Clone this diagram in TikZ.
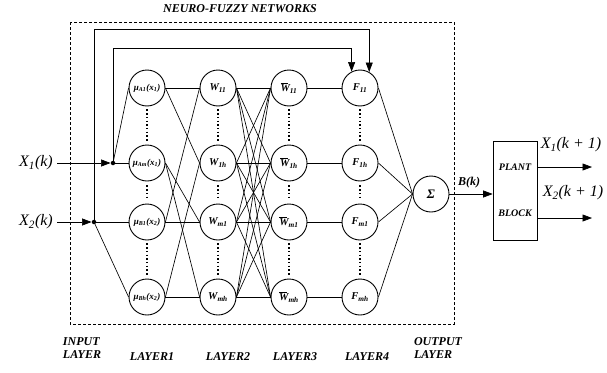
\documentclass[tikz,border=0pt]{standalone}
\usepackage{fontspec}
\setmainfont{Liberation Serif}
\usetikzlibrary{arrows.meta}
% bold italic labels with text-mode subscripts
\newcommand{\sub}[2]{#1\textsubscript{#2}}
\newcommand{\barW}{\rlap{\raisebox{0.82em}{\rule{0.75em}{0.7pt}}}W}
\begin{document}
\begin{tikzpicture}[x=1pt,y=-1pt,
  neuron/.style={draw,circle,minimum size=36pt,inner sep=0pt,line width=0.9pt,
    font=\fontsize{10.5}{10.5}\selectfont\bfseries\itshape},
  mfneuron/.style={neuron,font=\fontsize{9}{9}\selectfont\bfseries\itshape},
  wire/.style={line width=0.65pt},
  dotcol/.style={line width=1.1pt,dash pattern=on 1.5pt off 2.2pt},
  frame/.style={line width=0.9pt,dash pattern=on 3pt off 2pt},
  tag/.style={font=\fontsize{12}{12.5}\selectfont\bfseries\itshape,align=left,inner sep=0pt},
  var/.style={font=\fontsize{16}{16}\selectfont\itshape,inner sep=0pt},
  arr/.style={wire,-{Triangle[length=9.5pt,width=7pt]}},
  junction/.style={circle,fill,inner sep=0pt,minimum size=4.5pt},
  blockbox/.style={draw,line width=0.7pt,minimum width=44pt,minimum height=99pt,inner sep=0pt},
]
\useasboundingbox (0,0) rectangle (607,372);

% network frame and title
\draw[frame] (70,22) rectangle (454,324);
\node[tag] (title) at (240,9) {NEURO-FUZZY NETWORKS};

% layer 1: membership functions
\node[mfneuron] (a1) at (147,88)  {\sub{μ}{A1}(x\textsubscript{1})};
\node[mfneuron] (a2) at (147,163) {\sub{μ}{Am}(x\textsubscript{1})};
\node[mfneuron] (a3) at (147,222) {\sub{μ}{B1}(x\textsubscript{2})};
\node[mfneuron] (a4) at (147,297) {\sub{μ}{Bh}(x\textsubscript{2})};
% layer 2: rule firing strengths
\node[neuron] (b1) at (218,88)  {\sub{W}{11}};
\node[neuron] (b2) at (218,163) {\sub{W}{1h}};
\node[neuron] (b3) at (218,222) {\sub{W}{m1}};
\node[neuron] (b4) at (218,297) {\sub{W}{mh}};
% layer 3: normalised strengths
\node[neuron] (c1) at (289,88)  {\sub{\barW}{11}};
\node[neuron] (c2) at (289,163) {\sub{\barW}{1h}};
\node[neuron] (c3) at (289,222) {\sub{\barW}{m1}};
\node[neuron] (c4) at (289,297) {\sub{\barW}{mh}};
% layer 4: rule consequents
\node[neuron] (f1) at (360,88)  {\sub{F}{11}};
\node[neuron] (f2) at (360,163) {\sub{F}{1h}};
\node[neuron] (f3) at (360,222) {\sub{F}{m1}};
\node[neuron] (f4) at (360,297) {\sub{F}{mh}};
% output layer
\node[neuron,font=\fontsize{13}{13}\selectfont\bfseries\itshape] (s) at (431,194) {Σ};

% dotted continuation marks in each column
\foreach \col in {a,b,c,f}{
  \draw[dotcol] ([yshift=-3pt]\col1.south) -- ([yshift=3pt]\col2.north);
  \draw[dotcol] ([yshift=-4pt]\col2.south) -- ([yshift=4pt]\col3.north);
  \draw[dotcol] ([yshift=-3pt]\col3.south) -- ([yshift=3pt]\col4.north);
}

% inputs
\node[var] (x1) at (36,163) {X\textsubscript{1}(k)};
\node[var] (x2) at (36,222) {X\textsubscript{2}(k)};
\node[junction] (j1) at (113,163) {};
\node[junction] (j2) at (94,222) {};
\draw[arr] ([xshift=4pt]x1.east) -- (j1);
\draw[arr] ([xshift=4pt]x2.east) -- (j2);
\draw[wire] (j1) -- (a1.west);
\draw[wire] (j1) -- (a2.west);
\draw[wire] (j2) -- (a3.west);
\draw[wire] (j2) -- (a4.west);

% inputs fed forward to the consequent layer
\coordinate (top1) at (0,48);
\coordinate (top2) at (0,29);
\draw[arr] (j1) |- (f1.117 |- top1) -- (f1.117);
\draw[arr] (j2) |- (f1.60 |- top2) -- (f1.60);

% layer 1 -> layer 2
\foreach \i/\j in {1/1,1/2,2/3,2/4,3/1,3/3,4/2,4/4}
  \draw[wire] (a\i.east) -- (b\j.west);
% layer 2 -> layer 3, fully connected
\foreach \i in {1,...,4}
  \foreach \j in {1,...,4}
    \draw[wire] (b\i.east) -- (c\j.west);
% layer 3 -> layer 4
\foreach \i in {1,...,4}
  \draw[wire] (c\i.east) -- (f\i.west);
% layer 4 -> sum
\foreach \i in {1,...,4}
  \draw[wire] (f\i.east) -- (s.west);

% plant
\node[blockbox] (plant) at (515,190.5) {};
\node[tag,font=\fontsize{10}{10}\selectfont\bfseries\itshape] (plantt) at (515,167) {PLANT};
\node[tag,font=\fontsize{10}{10}\selectfont\bfseries\itshape] (blockt) at (515,213) {BLOCK};
\draw[arr] (s.east) -- (plant.west |- s);
\node[tag] (bk) at (469,183) {B(k)};

\coordinate (o1) at (592,167);
\coordinate (o2) at (592,218);
\draw[arr] (plant.east |- o1) -- (o1);
\draw[arr] (plant.east |- o2) -- (o2);
\node[var] (y1) at (571,145) {X\textsubscript{1}(k + 1)};
\node[var] (y2) at (573,193) {X\textsubscript{2}(k + 1)};

% layer captions
\node[tag] (lin) at (82,348) {INPUT\\LAYER};
\node[tag] (l1) at (152,357) {LAYER1};
\node[tag] (l2) at (228,357) {LAYER2};
\node[tag] (l3) at (295,357) {LAYER3};
\node[tag] (l4) at (367,357) {LAYER4};
\node[tag] (lout) at (438,348) {OUTPUT\\LAYER};
\end{tikzpicture}
\end{document}
